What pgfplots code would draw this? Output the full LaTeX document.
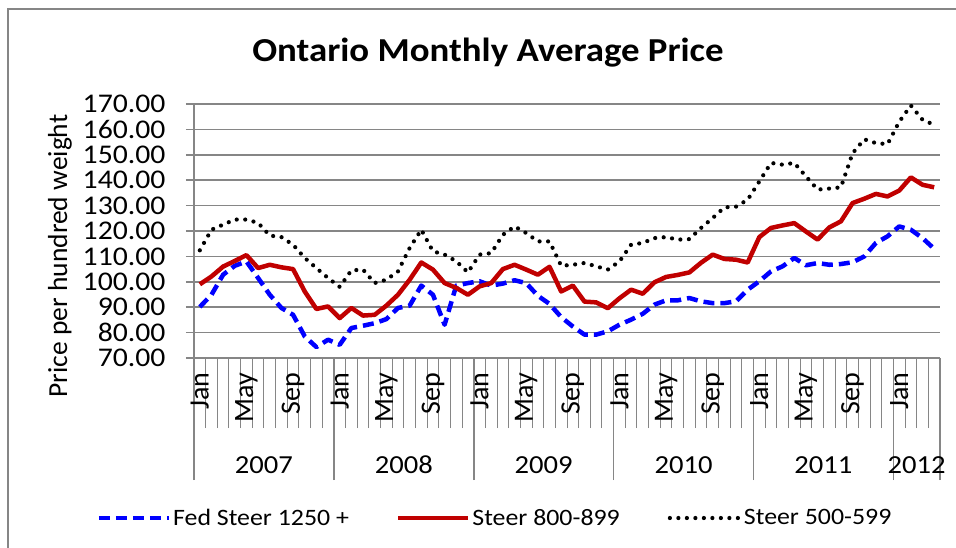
\documentclass[border=0pt]{standalone}
\usepackage{pgfplots}
\pgfplotsset{compat=1.18}
\usepackage{pgfplotstable}
\usepackage{fontspec}
\setmainfont{Carlito}[FakeStretch=1.1]
\newfontfamily\rotfont{Carlito}
\definecolor{gridgray}{RGB}{134,134,134}
\definecolor{fedblue}{RGB}{0,0,255}
\definecolor{steerred}{RGB}{192,0,0}

\pgfplotstableread{
i fed s800 s500
0 90.1 99.0 112.4
1 94.9 102.1 120.5
2 102.8 106.0 122.5
3 106.3 108.2 124.5
4 108.0 110.5 124.5
5 101.5 105.4 123.2
6 94.9 106.7 118.2
7 89.7 105.7 117.6
8 87.0 105.0 114.6
9 78.5 96.2 109.4
10 74.3 89.3 105.4
11 77.2 90.3 101.5
12 75.2 85.7 98.0
13 81.8 89.7 104.5
14 82.7 86.7 104.8
15 83.7 87.0 99.5
16 85.3 90.6 100.8
17 89.7 94.9 104.1
18 90.6 100.8 113.3
19 98.5 107.6 120.5
20 94.9 104.8 112.0
21 83.1 99.5 110.7
22 98.5 97.6 108.1
23 99.5 94.9 103.7
24 100.2 98.2 110.7
25 98.5 99.5 111.3
26 99.3 105.0 118.5
27 100.6 106.7 121.8
28 99.5 104.8 119.2
29 94.5 102.8 115.9
30 91.3 105.9 115.9
31 86.1 96.2 106.3
32 82.4 98.5 106.7
33 79.2 92.2 107.4
34 79.2 91.9 106.1
35 80.5 89.6 104.8
36 83.1 93.5 108.0
37 85.1 96.9 114.6
38 87.4 95.3 115.3
39 91.0 99.8 117.2
40 92.7 101.9 117.6
41 92.7 102.7 116.6
42 93.6 103.7 116.8
43 92.3 107.5 121.2
44 91.6 110.7 125.1
45 91.6 109.0 129.3
46 92.3 108.7 129.6
47 96.9 107.6 132.3
48 100.2 117.6 139.5
49 104.1 121.2 146.8
50 106.1 122.2 146.1
51 109.4 123.1 146.8
52 106.5 119.8 141.5
53 107.4 116.6 136.3
54 106.7 121.4 136.7
55 107.0 123.8 137.2
56 107.7 131.0 150.6
57 110.0 132.7 156.1
58 115.3 134.6 154.6
59 117.9 133.6 154.2
60 121.8 135.9 163.0
61 120.5 141.1 169.4
62 117.2 138.2 163.8
63 113.0 137.2 161.8
}\datatable

\pgfplotsset{
  base/.style={
    scale only axis, width=746pt, height=254pt,
    at={(194pt,190pt)}, anchor=south west,
    xmin=-0.5, xmax=63.5, ymin=70, ymax=170,
    clip=false,
  },
  longleg/.style={legend image code/.code={\draw[##1] (0pt,0pt) -- (70pt,0pt);}},
}

\begin{document}
\begin{tikzpicture}[x=1pt,y=1pt]
\useasboundingbox (0,0) rectangle (956,548);
\draw[gridgray, line width=2.5pt] (8,0) -- (8,539) -- (956,539);
\node[font=\fontsize{33.5}{37}\selectfont\bfseries, anchor=base] at (488,486.3) {Ontario Monthly Average Price};
\node[rotate=90, font=\rotfont\fontsize{27.5}{30}\selectfont] at (60,292) {Price per hundred weight};

% month separators
\begin{axis}[base,
  axis x line=bottom, axis y line=none,
  axis line style={-, gridgray, line width=1.5pt},
  tick align=outside,
  xtick={-0.5,0.5,...,63.5}, xticklabels={},
  major tick length=70pt,
  xtick style={gridgray, line width=1pt},
  ytick=\empty]
\end{axis}

% year separators
\begin{axis}[base,
  axis x line=bottom, axis y line=none,
  axis line style={-, gridgray, line width=1.5pt},
  tick align=outside,
  xtick={-0.5,11.5,23.5,35.5,47.5,59.5,63.5}, xticklabels={},
  major tick length=122pt,
  xtick style={gridgray, line width=1.5pt},
  ytick=\empty]
\end{axis}

% month labels and year labels
\begin{axis}[base,
  axis x line=bottom, axis y line=none,
  x axis line style={draw=none},
  major tick length=0pt,
  xtick={0,4,...,60},
  xticklabels={Jan,May,Sep,Jan,May,Sep,Jan,May,Sep,Jan,May,Sep,Jan,May,Sep,Jan},
  xticklabel style={rotate=90, anchor=east, font=\rotfont\fontsize{28}{30}\selectfont},
  xticklabel shift=11pt,
  ytick=\empty]
  \node[font=\fontsize{26}{30}\selectfont] at (5.5,70) [yshift=-107pt] {2007};
  \node[font=\fontsize{26}{30}\selectfont] at (17.5,70) [yshift=-107pt] {2008};
  \node[font=\fontsize{26}{30}\selectfont] at (29.5,70) [yshift=-107pt] {2009};
  \node[font=\fontsize{26}{30}\selectfont] at (41.5,70) [yshift=-107pt] {2010};
  \node[font=\fontsize{26}{30}\selectfont] at (53.5,70) [yshift=-107pt] {2011};
  \node[font=\fontsize{26}{30}\selectfont] at (61.5,70) [yshift=-107pt] {2012};
\end{axis}

% main
\begin{axis}[base,
  axis x line=bottom, axis y line=left,
  axis line style={-, gridgray, line width=1.5pt},
  xtick=\empty,
  ytick={70,80,...,170},
  ymajorgrids,
  grid style={gridgray, line width=1.5pt},
  tick align=outside,
  major tick length=8pt,
  ytick style={gridgray, line width=1.5pt},
  yticklabel shift=17pt,
  yticklabel style={font=\fontsize{27}{30}\selectfont,
    /pgf/number format/fixed, /pgf/number format/fixed zerofill,
    /pgf/number format/precision=2, /pgf/number format/assume math mode=true},
  legend style={at={(0.4035,-0.63)}, anchor=center, draw=none, fill=none,
    font=\fontsize{23.5}{26}\selectfont,
    /tikz/column 2/.style={column sep=45pt},
    /tikz/column 4/.style={column sep=46pt}},
  legend columns=3,
  longleg,
  ]
  \addplot[fedblue, line width=4.5pt, dash pattern=on 11pt off 6pt, line join=round] table[x=i, y=fed] {\datatable};
  \addlegendentry{Fed Steer 1250 +}
  \addplot[steerred, line width=4.5pt, line join=round] table[x=i, y=s800] {\datatable};
  \addlegendentry{Steer 800-899}
  \addplot[black, line width=4.2pt, line cap=round, dash pattern=on 0pt off 8.5pt] table[x=i, y=s500] {\datatable};
  \addlegendentry{Steer 500-599}
\end{axis}
\end{tikzpicture}
\end{document}
